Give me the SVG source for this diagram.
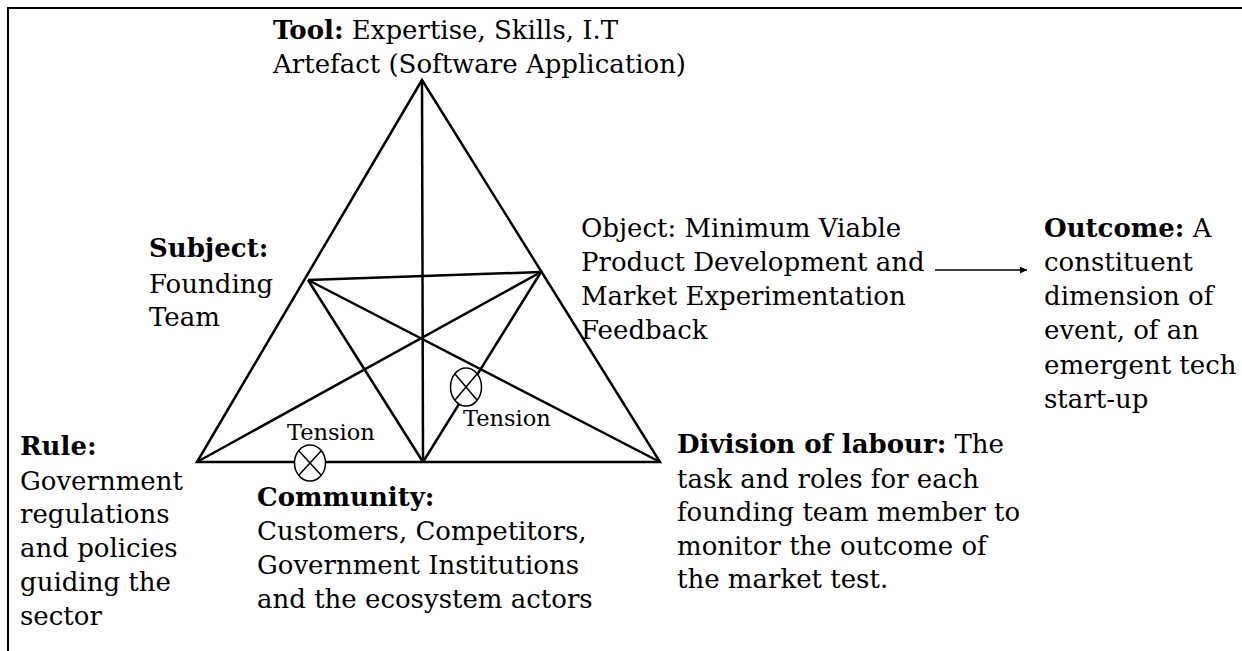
<svg xmlns="http://www.w3.org/2000/svg" width="1242" height="651" viewBox="0 0 1242 651">
<defs>
<style>
text{font-family:"DejaVu Serif","Liberation Serif",serif;font-size:26px;fill:#000}
.b{font-weight:bold}
.t{font-size:22.5px}
.ln{stroke:#000;stroke-width:2.5;fill:none}
.ln2{stroke:#000;stroke-width:1.5;fill:none}
</style>
<marker id="ah" viewBox="0 0 10 10" refX="10" refY="5" markerWidth="7" markerHeight="7" orient="auto" markerUnits="userSpaceOnUse"><path d="M0,0 L10,5 L0,10 z" fill="#000"/></marker>
</defs>
<rect width="1242" height="651" fill="#fff"/>
<path d="M8,651 L8,8 L1242,8" stroke="#000" stroke-width="2" fill="none"/>
<g id="connectors">
<polygon class="ln" points="422,80 197,462 660,462"/>
<line class="ln" x1="422" y1="80" x2="423" y2="462"/>
<line class="ln" x1="308" y1="280" x2="541" y2="272"/>
<line class="ln" x1="308" y1="280" x2="423" y2="462"/>
<line class="ln" x1="308" y1="280" x2="660" y2="462"/>
<line class="ln" x1="541" y1="272" x2="197" y2="462"/>
<line class="ln" x1="541" y1="272" x2="423" y2="462"/>
<line class="ln2" x1="935" y1="270" x2="1027" y2="270" marker-end="url(#ah)"/>
</g>
<g id="tension1">
<ellipse cx="310" cy="463" rx="15.5" ry="18" fill="#fff" stroke="#000" stroke-width="1.5"/>
<line class="ln2" x1="299" y1="451" x2="321" y2="475"/>
<line class="ln2" x1="321" y1="451" x2="299" y2="475"/>
<text class="t" x="287" y="440">Tension</text>
</g>
<g id="tension2">
<ellipse cx="466" cy="387" rx="15.5" ry="19" fill="#fff" stroke="#000" stroke-width="1.5"/>
<line class="ln2" x1="455" y1="374" x2="477" y2="400"/>
<line class="ln2" x1="477" y1="374" x2="455" y2="400"/>
<text class="t" x="463" y="426">Tension</text>
</g>
<g id="tool">
<text x="273" y="39"><tspan class="b">Tool:</tspan> Expertise, Skills, I.T</text>
<text x="273" y="73">Artefact (Software Application)</text>
</g>
<g id="subject">
<text class="b" x="149" y="257">Subject:</text>
<text x="149" y="293">Founding</text>
<text x="149" y="326">Team</text>
</g>
<g id="object">
<text x="581" y="237">Object: Minimum Viable</text>
<text x="581" y="271">Product Development and</text>
<text x="581" y="305">Market Experimentation</text>
<text x="581" y="339">Feedback</text>
</g>
<g id="outcome">
<text x="1044" y="237"><tspan class="b">Outcome:</tspan> A</text>
<text x="1044" y="271">constituent</text>
<text x="1044" y="305">dimension of</text>
<text x="1044" y="339">event, of an</text>
<text x="1044" y="374">emergent tech</text>
<text x="1044" y="408">start-up</text>
</g>
<g id="rule">
<text class="b" x="20" y="455">Rule:</text>
<text x="20" y="490">Government</text>
<text x="20" y="523">regulations</text>
<text x="20" y="557">and policies</text>
<text x="20" y="591">guiding the</text>
<text x="20" y="625">sector</text>
</g>
<g id="community">
<text class="b" x="257" y="506">Community:</text>
<text x="257" y="540">Customers, Competitors,</text>
<text x="257" y="574">Government Institutions</text>
<text x="257" y="608">and the ecosystem actors</text>
</g>
<g id="division">
<text x="677" y="453"><tspan class="b">Division of labour:</tspan> The</text>
<text x="677" y="488">task and roles for each</text>
<text x="677" y="521">founding team member to</text>
<text x="677" y="555">monitor the outcome of</text>
<text x="677" y="588">the market test.</text>
</g>
</svg>
